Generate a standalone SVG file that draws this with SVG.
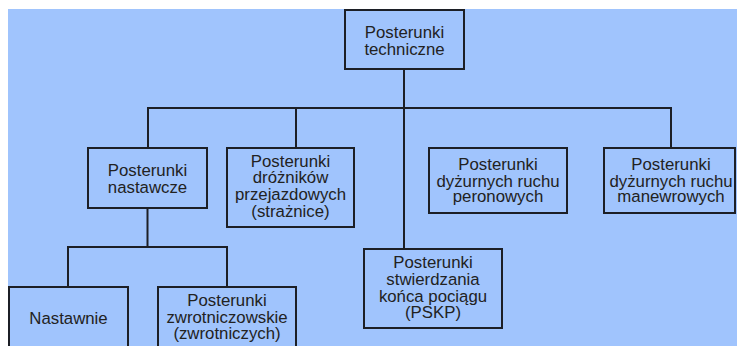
<svg xmlns="http://www.w3.org/2000/svg" width="737" height="346" viewBox="0 0 737 346">
<style>
.box{fill:#a0c4fd;stroke:#1c1f26;stroke-width:2}
.ln{fill:none;stroke:#1c1f26;stroke-width:2}
text{font-family:"Liberation Sans",Arial,sans-serif;font-size:16.8px;fill:#222;text-anchor:middle}
</style>
<rect x="0" y="0" width="737" height="346" fill="#ffffff"/>
<rect x="8" y="9" width="729" height="337" fill="#a0c4fd"/>
<g id="connectors">
<path class="ln" d="M404 69V108"/>
<path class="ln" d="M148 148V108H671V148"/>
<path class="ln" d="M296 108V148"/>
<path class="ln" d="M404 108V249"/>
<path class="ln" d="M147.5 208V247"/>
<path class="ln" d="M68 287V247H227V287"/>
</g>
<g id="n-techniczne">
<rect class="box" x="345" y="10" width="119" height="59"/>
<text x="404.5" y="37.5">Posterunki</text>
<text x="404.5" y="55">techniczne</text>
</g>
<g id="n-nastawcze">
<rect class="box" x="88" y="148" width="119" height="60"/>
<text x="147.5" y="176">Posterunki</text>
<text x="147.5" y="192.7">nastawcze</text>
</g>
<g id="n-drozniki">
<rect class="box" x="227" y="148" width="127" height="79"/>
<text x="290.5" y="166.7">Posterunki</text>
<text x="290.5" y="183.3">dróżników</text>
<text x="290.5" y="200">przejazdowych</text>
<text x="290.5" y="216.5">(strażnice)</text>
</g>
<g id="n-peronowych">
<rect class="box" x="429" y="148" width="138" height="65"/>
<text x="498" y="170">Posterunki</text>
<text x="498" y="186.5">dyżurnych ruchu</text>
<text x="498" y="202">peronowych</text>
</g>
<g id="n-manewrowych">
<rect class="box" x="604" y="148" width="131" height="65"/>
<text x="671" y="170">Posterunki</text>
<text x="671" y="186.5">dyżurnych ruchu</text>
<text x="671" y="202">manewrowych</text>
</g>
<g id="n-nastawnie">
<rect class="box" x="9" y="287" width="119" height="70"/>
<text x="68.5" y="324">Nastawnie</text>
</g>
<g id="n-zwrotniczowskie">
<rect class="box" x="158" y="287" width="138" height="70"/>
<text x="227" y="305.7">Posterunki</text>
<text x="227" y="322.5">zwrotniczowskie</text>
<text x="227" y="339.3">(zwrotniczych)</text>
</g>
<g id="n-pskp">
<rect class="box" x="364" y="249" width="138" height="79"/>
<text x="433" y="267.7">Posterunki</text>
<text x="433" y="285">stwierdzania</text>
<text x="433" y="301.7">końca pociągu</text>
<text x="433" y="318.3">(PSKP)</text>
</g>
</svg>
